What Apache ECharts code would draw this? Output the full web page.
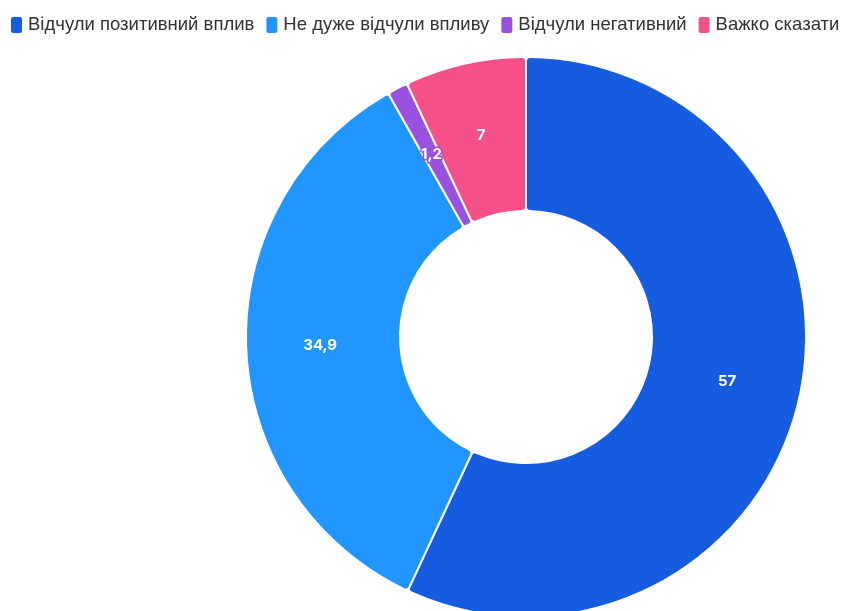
<!DOCTYPE html>
<html><head><meta charset="utf-8">
<script src="https://cdn.jsdelivr.net/npm/echarts@6/dist/echarts.min.js"></script>
<style>html,body{margin:0;padding:0;background:#fff}#c{width:854px;height:611px}</style>
</head><body><div id="c"></div>
<script>
const categories = ['Відчули позитивний вплив', 'Не дуже відчули впливу', 'Відчули негативний', 'Важко сказати'];
const values = [57, 34.9, 1.2, 7];
const colors = ['#165CE0', '#2196FF', '#9B51E0', '#F5508A'];

const chart = echarts.init(document.getElementById('c'));
chart.setOption({
  animation: false,
  color: colors,
  legend: {
    left: 4, top: 10,
    icon: 'roundRect',
    itemWidth: 13, itemHeight: 18, itemGap: 10,
    textStyle: { fontSize: 18.5, color: '#333', fontFamily: '"Liberation Sans", Arial, sans-serif', padding: [0,0,0,0] },
    data: categories
  },
  series: [{
    type: 'pie',
    center: [526, 337],
    radius: [126, 280],
    startAngle: 90,
    clockwise: true,
    itemStyle: { borderColor: '#fff', borderWidth: 2, borderRadius: 4 },
    label: {
      position: 'inside',
      color: '#fff', fontWeight: 'bold', fontSize: 15, fontFamily: 'Inter, sans-serif',
      textBorderWidth: 3,
      formatter: p => String(p.value).replace('.', ',')
    },
    labelLine: { show: false },
    data: categories.map((n, i) => ({ name: n, value: values[i], label: { textBorderColor: colors[i] } }))
  }]
});
</script></body></html>
